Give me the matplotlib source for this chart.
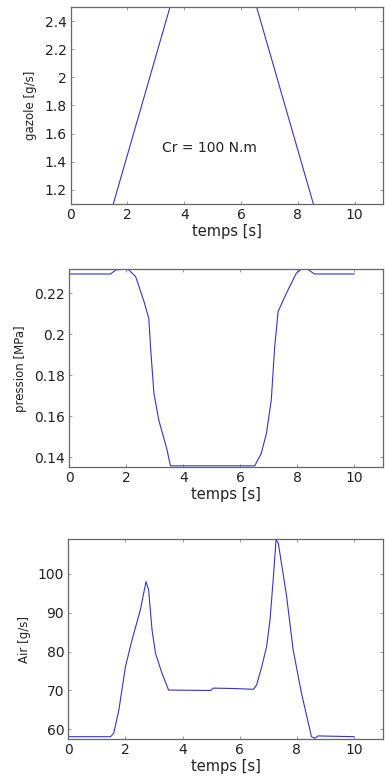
import numpy as np
import matplotlib
matplotlib.use('Agg')
import matplotlib.pyplot as plt
from matplotlib.ticker import FuncFormatter

# gazole [g/s]
t_gaz = [0, 1.0, 4.0, 6.05, 9.05, 10]
gazole = [0.75, 0.75, 2.85, 2.85, 0.75, 0.75]

# pression [MPa]
t_pres = [0, 1.45, 1.63, 1.92, 2.09, 2.33, 2.62, 2.79, 2.85, 2.97, 3.14, 3.43, 3.55,
          6.51, 6.74, 6.92, 7.09, 7.21, 7.33, 7.62, 7.97, 8.14, 8.37, 8.6, 10]
pression = [0.2294, 0.2294, 0.2314, 0.2317, 0.2314, 0.2281, 0.216, 0.2078, 0.194, 0.1712,
            0.1582, 0.1436, 0.1358, 0.1358, 0.142, 0.1517, 0.168, 0.194, 0.2111, 0.22,
            0.2298, 0.2317, 0.2317, 0.2294, 0.2294]

# Air [g/s]
t_air = [0, 1.48, 1.59, 1.77, 2.0, 2.23, 2.52, 2.72, 2.81, 2.93, 3.05, 3.28, 3.51,
         4.97, 5.08, 5.78, 6.48, 6.59, 6.77, 6.94, 7.06, 7.17, 7.27, 7.35, 7.64, 7.87,
         8.16, 8.51, 8.63, 8.74, 10]
air = [58.1, 58.1, 59.0, 65.0, 76.1, 83.0, 90.7, 98.0, 95.9, 85.6, 79.6, 74.4, 70.1,
       70.0, 70.6, 70.5, 70.3, 71.4, 76.1, 81.3, 88.2, 98.5, 108.8, 107.9, 94.2, 80.4,
       69.3, 58.1, 57.7, 58.3, 58.1]

couleur = '#3535c0'
texte = '#222222'

fig = plt.figure(figsize=(3.85, 7.78), dpi=100)

def style(ax, ylab, yticks, ylim):
    ax.set_xlim(0, 11)
    ax.set_ylim(*ylim)
    ax.set_xticks([0, 2, 4, 6, 8, 10])
    ax.set_yticks(yticks)
    ax.yaxis.set_major_formatter(FuncFormatter(lambda v, p: '%g' % round(v, 4)))
    ax.tick_params(direction='in', top=True, right=True, length=2.5, width=0.6,
                   labelsize=10, colors='#888888', labelcolor=texte, pad=3)
    for s in ax.spines.values():
        s.set_color('#666666')
        s.set_linewidth(0.9)
    ax.set_xlabel('temps [s]', fontsize=10.5, labelpad=1, color=texte)
    ax.set_ylabel(ylab, fontsize=8.5, labelpad=5, color=texte)

ax1 = fig.add_axes([0.1836, 0.7378, 0.811, 0.2532])
ax1.plot(t_gaz, gazole, color=couleur, lw=0.8)
style(ax1, 'gazole [g/s]', [1.2, 1.4, 1.6, 1.8, 2.0, 2.2, 2.4], (1.1, 2.5))
ax1.text(3.2, 1.5, 'Cr = 100 N.m', fontsize=10, va='center', color=texte)

ax2 = fig.add_axes([0.18, 0.3994, 0.814, 0.2545])
ax2.plot(t_pres, pression, color=couleur, lw=0.8)
style(ax2, 'pression [MPa]', [0.14, 0.16, 0.18, 0.2, 0.22], (0.1351, 0.2317))

ax3 = fig.add_axes([0.1774, 0.0501, 0.8164, 0.2567])
ax3.plot(t_air, air, color=couleur, lw=0.8)
style(ax3, 'Air [g/s]', [60, 70, 80, 90, 100], (57.5, 108.9))

plt.savefig('out.png', dpi=100)
